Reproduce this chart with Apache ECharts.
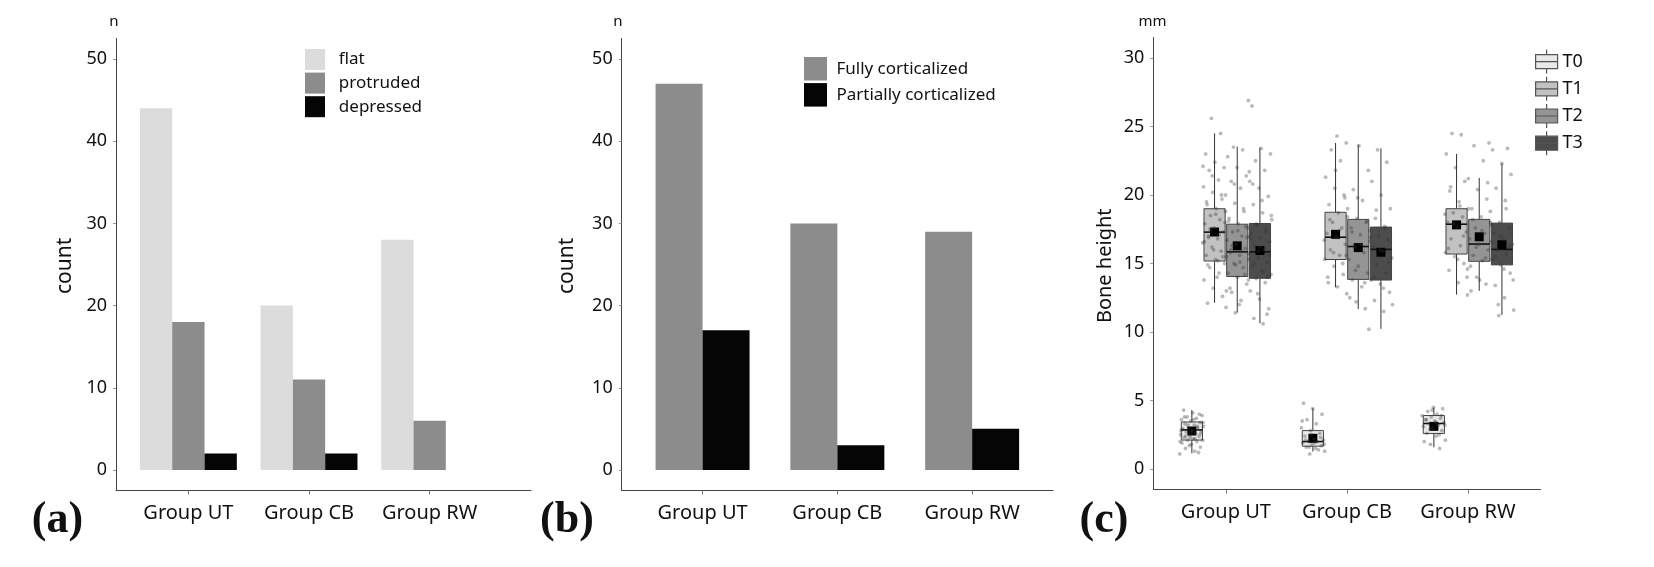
<!DOCTYPE html>
<html>
<head>
<meta charset="utf-8">
<script src="https://cdn.jsdelivr.net/npm/echarts@6/dist/echarts.min.js"></script>
<style>
html,body{margin:0;padding:0;background:#fff;}
#chart{width:1654px;height:567px;}
</style>
</head>
<body>
<div id="chart"></div>
<script>
// ---------- data ----------
const groups = ['Group UT', 'Group CB', 'Group RW'];
const countTicks = [0, 10, 20, 30, 40, 50];
const heightTicks = [0, 5, 10, 15, 20, 25, 30];

// panel (a)
const flatCounts = [44, 20, 28];
const protrudedCounts = [18, 11, 6];
const depressedCounts = [2, 2, 0];

// panel (b)
const fullyCounts = [47, 30, 29];
const partiallyCounts = [17, 3, 5];

// panel (c) box stats per group: [min, q1, median, q3, max]
const timeNames = ['T0', 'T1', 'T2', 'T3'];
const t0Stats = [[1.14, 2.11, 2.85, 3.43, 4.30], [1.27, 1.66, 2.00, 2.80, 4.43], [1.58, 2.59, 3.32, 3.90, 4.48]];
const t1Stats = [[12.13, 15.18, 17.29, 19.00, 24.50], [13.26, 15.29, 16.92, 18.74, 23.80], [12.73, 15.69, 17.87, 19.00, 23.00]];
const t2Stats = [[11.42, 14.05, 15.85, 17.87, 23.54], [11.68, 13.84, 16.24, 18.22, 23.67], [13.00, 15.16, 16.42, 18.22, 21.25]];
const t3Stats = [[10.63, 13.92, 15.85, 17.92, 23.46], [10.23, 13.79, 16.03, 17.66, 23.40], [11.25, 14.90, 16.03, 17.95, 22.30]];
const t0Means = [2.77, 2.24, 3.11];
const t1Means = [17.30, 17.13, 17.82];
const t2Means = [16.29, 16.16, 16.95];
const t3Means = [15.95, 15.82, 16.37];

const t0Points = [
  [1.1,1.3,1.5,1.6,1.8,1.9,2.0,2.1,2.1,2.2,2.3,2.4,2.5,2.5,2.6,2.7,2.8,2.8,2.9,3.0,3.0,3.1,3.2,3.3,3.4,3.5,3.6,3.7,3.8,3.9,4.1,4.3,
   1.2,1.7,2.0,2.2,2.4,2.6,2.7,2.9,3.1,3.2,3.4,3.6,3.8,4.0,2.3,2.8],
  [1.1,1.3,1.5,1.6,1.7,1.8,1.9,2.0,2.0,2.1,2.2,2.4,2.6,2.8,3.0,3.3,3.6,4.0,4.4,4.8,
   1.4,1.6,1.8,1.9,2.1,2.3,2.5,3.5],
  [1.5,1.8,2.1,2.4,2.6,2.8,3.0,3.1,3.2,3.3,3.4,3.5,3.6,3.7,3.8,3.9,4.0,4.2,4.4,4.5,
   2.0,2.5,2.9,3.2,3.4,3.6,3.9,4.3]
];
const t1Points = [
  [12.1,12.6,13.2,13.8,14.3,14.7,15.0,15.3,15.6,15.9,16.2,16.5,16.8,17.0,17.3,17.6,17.9,18.2,18.5,18.8,19.0,19.3,19.7,20.2,20.6,21.1,21.8,22.0,22.4,23.0,24.5,25.6,
   13.0,14.0,14.9,15.5,16.0,16.6,17.1,17.5,18.0,18.6,19.5,20.0,21.4,22.1,15.2,16.9],
  [13.3,13.6,14.2,14.8,15.3,15.6,16.0,16.4,16.9,17.2,17.6,18.0,18.4,18.7,19.3,20.0,20.5,21.3,22.5,23.3,23.8,24.3,
   14.0,15.0,15.8,16.7,17.4,18.2,19.8,21.8],
  [12.7,13.6,14.5,15.0,15.5,15.8,16.3,16.8,17.3,17.7,18.0,18.4,18.7,19.0,19.5,20.3,21.0,22.0,23.0,24.4,24.5,
   14.0,15.3,16.1,17.0,17.9,18.6,19.2,20.6]
];
const t2Points = [
  [11.4,11.8,12.3,12.9,13.5,14.0,14.3,14.7,15.0,15.3,15.6,15.8,16.1,16.4,16.7,17.0,17.3,17.6,17.9,18.3,18.8,19.4,20.0,20.5,21.0,21.4,22.0,22.8,23.3,23.5,26.9,
   12.0,13.2,14.2,14.9,15.5,15.9,16.3,16.9,17.4,18.1,19.0,20.8,21.7,15.1,16.0,17.7],
  [11.7,12.2,12.8,13.3,13.8,14.3,14.8,15.3,15.8,16.2,16.6,17.1,17.6,18.0,18.3,19.0,19.6,20.4,21.8,23.6,
   12.5,13.6,14.5,15.6,16.4,17.3,18.1,19.8],
  [13.0,13.5,14.0,14.6,15.2,15.6,16.0,16.4,16.8,17.2,17.6,18.0,18.4,19.0,19.7,20.4,21.2,22.5,23.6,23.8,
   13.8,14.8,15.4,16.2,16.6,17.4,18.2,20.9]
];
const t3Points = [
  [10.6,11.0,11.7,12.4,13.0,13.6,13.9,14.2,14.5,14.8,15.1,15.4,15.7,16.0,16.3,16.6,16.9,17.2,17.5,17.8,18.2,18.7,19.3,19.9,20.5,21.0,21.8,22.5,23.0,23.4,26.5,
   11.3,12.8,13.8,14.4,15.0,15.6,16.2,16.8,17.3,17.9,18.5,19.6,20.8,14.0,15.9,17.0],
  [10.2,11.5,12.3,12.9,13.5,13.8,14.3,14.9,15.4,15.9,16.2,16.7,17.0,17.4,17.7,18.3,19.0,20.0,21.0,22.4,23.3,
   12.0,13.2,14.0,15.1,16.0,16.9,17.6,18.9],
  [11.2,11.6,12.5,13.4,14.3,14.9,15.3,15.7,16.0,16.4,16.8,17.2,17.6,18.0,18.8,19.6,20.5,21.5,22.3,23.3,23.4,
   12.0,13.8,14.6,15.5,16.2,17.0,17.8,19.0]
];

// ---------- build ----------
const FONT = "'Noto Sans', 'DejaVu Sans', sans-serif";
const allStats = [t0Stats, t1Stats, t2Stats, t3Stats];
const allMeans = [t0Means, t1Means, t2Means, t3Means];
const allPoints = [t0Points, t1Points, t2Points, t3Points];
const boxFills = ['#e9e9e9', '#c2c2c2', '#959595', '#4c4c4c'];
const dodge = [-0.28125, -0.09375, 0.09375, 0.28125];
const boxW = 0.175;
const jitterW = 0.2;

const gridTop = 38.5, gridH = 452;
const grids = [
  {left: 116, top: gridTop, width: 415, height: gridH},
  {left: 621.7, top: gridTop, width: 431.3, height: gridH},
  {left: 1153.3, top: gridTop - 1, width: 387.2, height: gridH}
];
const xMax = [3.84, 3.6, 3.6];

function xAxisFor(i) {
  return {
    type: 'value', gridIndex: i, min: 0.4, max: xMax[i],
    axisLine: {show: true, onZero: false, lineStyle: {color: '#444', width: 1}},
    axisTick: {show: true, customValues: [1, 2, 3], length: 4, lineStyle: {color: '#777'}},
    axisLabel: {customValues: [1, 2, 3], formatter: v => groups[Math.round(v) - 1],
      fontFamily: FONT, fontSize: 20, color: '#111', margin: 13},
    splitLine: {show: false}
  };
}
function yAxisFor(i, mn, mx, ticks) {
  return {
    type: 'value', gridIndex: i, min: mn, max: mx,
    axisLine: {show: true, onZero: false, lineStyle: {color: '#444', width: 1}},
    axisTick: {show: true, customValues: ticks, length: 3, lineStyle: {color: '#999'}},
    axisLabel: {customValues: ticks, fontFamily: FONT, fontSize: 18, color: '#111', margin: 9},
    splitLine: {show: false}
  };
}

function barSeries(name, vals, color, axisIdx, width) {
  return {
    type: 'bar', name: name, xAxisIndex: axisIdx, yAxisIndex: axisIdx,
    data: vals.map((v, i) => [i + 1, v]),
    barWidth: width, barGap: '0%',
    itemStyle: {color: color}, silent: true
  };
}

const series = [
  barSeries('flat', flatCounts, '#dcdcdc', 0, 32.3),
  barSeries('protruded', protrudedCounts, '#8c8c8c', 0, 32.3),
  barSeries('depressed', depressedCounts, '#050505', 0, 32.3),
  barSeries('Fully corticalized', fullyCounts, '#8c8c8c', 1, 47),
  barSeries('Partially corticalized', partiallyCounts, '#050505', 1, 47)
];

timeNames.forEach((tn, k) => {
  const data = allStats[k].map((s, g) => [g + 1, s[0], s[1], s[2], s[3], s[4], allMeans[k][g]]);
  series.push({
    type: 'custom', name: tn, xAxisIndex: 2, yAxisIndex: 2, silent: true, z: 2,
    itemStyle: {color: boxFills[k]},
    encode: {x: 0, y: [1, 2, 3, 4, 5]},
    data: data,
    renderItem: function (params, api) {
      const xc = api.value(0) + dodge[k];
      const w = api.size([boxW, 0])[0];
      const pMin = api.coord([xc, api.value(1)]);
      const pQ1 = api.coord([xc, api.value(2)]);
      const pMed = api.coord([xc, api.value(3)]);
      const pQ3 = api.coord([xc, api.value(4)]);
      const pMax = api.coord([xc, api.value(5)]);
      const pMean = api.coord([xc, api.value(6)]);
      const cx = pMed[0];
      return {
        type: 'group',
        children: [
          {type: 'line', shape: {x1: cx, y1: pMax[1], x2: cx, y2: pQ3[1]}, style: {stroke: '#333', lineWidth: 1}},
          {type: 'line', shape: {x1: cx, y1: pQ1[1], x2: cx, y2: pMin[1]}, style: {stroke: '#333', lineWidth: 1}},
          {type: 'rect', shape: {x: cx - w / 2, y: pQ3[1], width: w, height: pQ1[1] - pQ3[1]},
            style: {fill: boxFills[k], stroke: '#444', lineWidth: 1}},
          {type: 'line', shape: {x1: cx - w / 2, y1: pMed[1], x2: cx + w / 2, y2: pMed[1]},
            style: {stroke: '#111', lineWidth: 1.6}},
          {type: 'rect', shape: {x: pMean[0] - 4.5, y: pMean[1] - 4.5, width: 9, height: 9}, style: {fill: '#000'}}
        ]
      };
    }
  });
});

// jittered observations (horizontal jitter is a layout choice)
timeNames.forEach((tn, k) => {
  const pts = [];
  allPoints[k].forEach((arr, g) => {
    arr.forEach((v, i) => {
      const j = ((i * 0.6180339887 + g * 0.37 + k * 0.21) % 1) - 0.5;
      pts.push([g + 1 + dodge[k] + j * jitterW, v]);
    });
  });
  series.push({
    type: 'scatter', name: tn + ' obs', xAxisIndex: 2, yAxisIndex: 2, silent: true, z: 3,
    symbol: 'circle', symbolSize: 3.8,
    itemStyle: {color: 'rgba(50,50,50,0.42)'},
    data: pts
  });
});

const boxIcon = 'path://M11,0L11,5M0,5L22,5L22,19L0,19ZM0,12L22,12M11,19L11,24';

function txt(x, y, s, font, rot) {
  return {type: 'text', x: x, y: y, rotation: rot || 0, silent: true,
    style: {text: s, font: font, fill: '#111', align: 'center', verticalAlign: 'middle'}};
}

const option = {
  animation: false,
  backgroundColor: '#fff',
  grid: grids,
  xAxis: [xAxisFor(0), xAxisFor(1), xAxisFor(2)],
  yAxis: [yAxisFor(0, -2.5, 52.5, countTicks), yAxisFor(1, -2.5, 52.5, countTicks), yAxisFor(2, -1.5, 31.5, heightTicks)],
  legend: [
    {data: ['flat', 'protruded', 'depressed'], orient: 'vertical', left: 300, top: 44,
      icon: 'rect', itemWidth: 20, itemHeight: 21, itemGap: 2.6, selectedMode: false,
      formatter: n => '  ' + n, textStyle: {fontFamily: FONT, fontSize: 17, color: '#111'}},
    {data: ['Fully corticalized', 'Partially corticalized'], orient: 'vertical', left: 799, top: 52,
      icon: 'rect', itemWidth: 23, itemHeight: 23.5, itemGap: 2.6, selectedMode: false,
      formatter: n => ' ' + n, textStyle: {fontFamily: FONT, fontSize: 17, color: '#111'}},
    {data: timeNames, orient: 'vertical', left: 1530, top: 44,
      icon: boxIcon, itemWidth: 22, itemHeight: 24, itemGap: 2.0, selectedMode: false,
      itemStyle: {borderColor: '#555', borderWidth: 1.2},
      formatter: n => n, textStyle: {fontFamily: FONT, fontSize: 18, color: '#111'}}
  ],
  graphic: [
    txt(114, 21.7, 'n', '15px ' + FONT),
    txt(618, 21.7, 'n', '15px ' + FONT),
    txt(1152.5, 21.7, 'mm', '15px ' + FONT),
    txt(65, 265.8, 'count', '21px ' + FONT, Math.PI / 2),
    txt(566.7, 265.8, 'count', '21px ' + FONT, Math.PI / 2),
    txt(1105, 265.8, 'Bone height', '20px ' + FONT, Math.PI / 2),
    txt(57.5, 520.8, '(a)', "bold 44px 'Liberation Serif', serif"),
    txt(567, 520.8, '(b)', "bold 44px 'Liberation Serif', serif"),
    txt(1104, 520.8, '(c)', "bold 44px 'Liberation Serif', serif")
  ],
  series: series
};

const chart = echarts.init(document.getElementById('chart'), null, {renderer: 'canvas'});
chart.setOption(option);
</script>
</body>
</html>
